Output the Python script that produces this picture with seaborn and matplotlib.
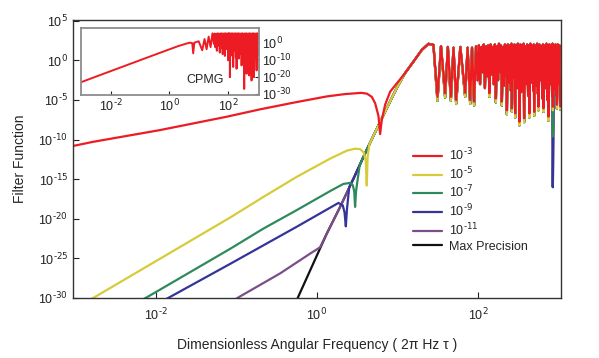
import numpy as np
import matplotlib
matplotlib.use('Agg')
import matplotlib.pyplot as plt
from matplotlib.ticker import NullLocator, FuncFormatter
import seaborn as sns

# Curves are stored as log10(frequency) / log10(filter function)

# shared steep part (all small-error curves collapse onto it)
merged_logx = [0.12, 0.287, 0.45, 0.617, 0.784, 0.99, 1.094, 1.198, 1.302, 1.384, 1.446]
merged_logF = [-21.9, -18.5, -15.0, -11.3, -7.75, -3.5, -1.6, -0.15, 1.33, 2.09, 1.96]

# high frequency oscillating tail (red on top, the others peek out under the dips)
tail_logx = [1.496, 1.54, 1.591, 1.625, 1.662, 1.695, 1.728, 1.78, 1.84, 1.87, 1.902, 1.925, 1.951, 1.975,
             1.995, 2.01, 2.025, 2.04, 2.055, 2.07, 2.085, 2.10, 2.115, 2.128, 2.141, 2.155, 2.168, 2.182,
             2.195, 2.208, 2.221, 2.235, 2.248, 2.26, 2.272, 2.284, 2.295, 2.31, 2.322, 2.334, 2.346, 2.352,
             2.358, 2.37, 2.382, 2.395, 2.407, 2.414, 2.42, 2.432, 2.444, 2.452, 2.461, 2.474, 2.486, 2.495,
             2.505, 2.51, 2.514, 2.526, 2.538, 2.548, 2.56, 2.566, 2.572, 2.585, 2.598, 2.61, 2.622, 2.63,
             2.638, 2.65, 2.662, 2.674, 2.686, 2.692, 2.697, 2.71, 2.722, 2.733, 2.742, 2.746, 2.75, 2.762,
             2.774, 2.786, 2.798, 2.806, 2.812, 2.825, 2.837, 2.849, 2.86, 2.868, 2.874, 2.886, 2.898, 2.91,
             2.92, 2.925, 2.929, 2.94, 2.952, 2.962, 2.972, 2.976, 2.979, 2.99, 3.0, 3.01, 3.02]
tail_red = [-4.6, 1.8, -4.15, 1.7, -4.6, 1.6, -5.0, 1.7, -4.1, 1.6, -5.0, 1.6, -5.2, 1.8,
            -2.5, 1.9, -3.0, 1.7, -1.5, 2.0, -3.5, 1.8, -2.0, 1.9, -4.15, 2.0, -1.8, 1.7,
            -3.0, 2.0, -4.8, 1.8, -2.5, 2.1, -1.5, 1.9, -5.2, 1.7, -3.2, 2.0, -2.0, 1.8,
            -6.3, 2.0, -2.8, 1.9, -3.8, 2.1, -6.05, 1.8, -2.2, 2.0, -6.7, 1.9, -3.5, 2.1,
            -2.0, 1.8, -7.75, 2.0, -4.0, 1.9, -2.5, 2.1, -7.3, 1.8, -3.0, 2.0, -4.5, 1.9,
            -6.7, 2.1, -2.8, 1.8, -3.8, 2.0, -6.5, 1.9, -3.2, 2.1, -4.2, 1.9, -5.85, 2.0,
            -2.5, 1.8, -4.8, 2.0, -6.05, 1.9, -3.5, 2.1, -5.0, 1.9, -7.1, 2.0, -3.0, 1.9,
            -4.5, 2.1, -5.85, 1.9, -3.8, 2.0, -4.5, 1.9, -5.6, 2.0, -3.0, 1.9, -5.8]
tail_under = [-5.1, 1.8, -4.7, 1.7, -5.1, 1.6, -5.5, 1.7, -4.6, 1.6, -5.5, 1.6, -5.7, 1.8,
              -2.5, 1.9, -3.0, 1.7, -1.5, 2.0, -3.5, 1.8, -2.0, 1.9, -4.6, 2.0, -1.8, 1.7,
              -3.0, 2.0, -5.3, 1.8, -2.5, 2.1, -1.5, 1.9, -5.7, 1.7, -3.2, 2.0, -2.0, 1.8,
              -6.8, 2.0, -2.8, 1.9, -3.8, 2.1, -6.5, 1.8, -2.2, 2.0, -7.2, 1.9, -3.5, 2.1,
              -2.0, 1.8, -8.2, 2.0, -4.0, 1.9, -2.5, 2.1, -7.8, 1.8, -3.0, 2.0, -4.5, 1.9,
              -7.2, 2.1, -2.8, 1.8, -3.8, 2.0, -7.0, 1.9, -3.2, 2.1, -4.2, 1.9, -6.3, 2.0,
              -2.5, 1.8, -4.8, 2.0, -6.5, 1.9, -3.5, 2.1, -5.0, 1.9, -7.6, 2.0, -3.0, 1.9,
              -4.5, 2.1, -6.3, 1.9, -3.8, 2.0, -4.5, 1.9, -6.1, 2.0, -3.0, 1.9, -6.2]
spike_logx = 2.929
spike_green = -9.6
spike_blue = -16.0

# each curve's own low-frequency part
red_logx = [-3.05, -2.78, -1.95, -1.12, -0.707, -0.293, 0.121, 0.35, 0.55, 0.62, 0.68, 0.722, 0.763,
            0.784, 0.805, 0.846, 0.908, 0.991, 1.094]
red_logF = [-10.85, -10.28, -8.8, -7.11, -6.18, -5.34, -4.55, -4.25, -4.1, -4.2, -4.6, -5.4, -7.0,
            -9.3, -7.5, -5.6, -3.95, -2.9, -1.6]
yellow_logx = [-2.9, -2.78, -2.0, -1.08, -0.666, -0.251, 0.163, 0.37, 0.47, 0.535, 0.58, 0.605, 0.618, 0.628, 0.65]
yellow_logF = [-30.7, -30.0, -25.35, -19.85, -17.24, -14.7, -12.4, -11.4, -11.15, -11.2, -11.6, -12.6, -15.8, -12.3, -10.6]
green_logx = [-2.2, -2.094, -1.08, -0.666, -0.251, 0.163, 0.327, 0.411, 0.444, 0.462, 0.473, 0.485, 0.53]
green_logF = [-30.4, -29.8, -23.8, -21.24, -18.9, -16.5, -15.6, -15.47, -15.76, -16.5, -18.5, -16.5, -13.2]
blue_logx = [-1.92, -1.813, -1.08, -0.666, -0.251, 0.163, 0.266, 0.32, 0.342, 0.358, 0.372, 0.40]
blue_logF = [-30.4, -29.8, -25.7, -23.35, -21.0, -18.6, -18.0, -18.3, -19.2, -20.95, -18.8, -16.0]
purple_logx = [-1.06, -0.955, -0.459, -0.086, 0.038, 0.1]
purple_logF = [-30.45, -29.8, -26.9, -24.4, -23.6, -22.3]
black_logx = [-0.27, -0.231]
black_logF = [-30.7, -29.8]

# CPMG inset
cpmg_logx = [-3.05, -2.5, -1.5, -0.5, 0.3, 0.59, 0.7, 0.78, 0.813, 0.85, 1.0, 1.12, 1.2, 1.27, 1.34, 1.407,
             1.47, 1.52, 1.545, 1.57, 1.595, 1.62, 1.645, 1.67, 1.695, 1.72, 1.745, 1.77, 1.795, 1.82,
             1.845, 1.87, 1.882, 1.895, 1.92, 1.945, 1.97, 1.99, 2.0, 2.008, 2.03, 2.05, 2.058, 2.066,
             2.085, 2.11, 2.135, 2.155, 2.165, 2.178, 2.2, 2.225, 2.25, 2.27, 2.28, 2.294, 2.315, 2.34,
             2.36, 2.373, 2.395, 2.42, 2.445, 2.465, 2.49, 2.515, 2.54, 2.554, 2.575, 2.6, 2.62, 2.636,
             2.66, 2.685, 2.705, 2.724, 2.745, 2.77, 2.79, 2.806, 2.83, 2.855, 2.87, 2.885, 2.91, 2.935,
             2.955, 2.977, 3.0, 3.02, 3.04, 3.06]
cpmg_logF = [-23.4, -19.9, -13.6, -7.3, -2.3, -0.8, -0.3, -0.6, -6.5, -0.3, 0.5, -4.7, 1.8, -4.1, 3.2, -2.9,
             5.1, -1.0, 5.0, -3.0, 4.8, -5.0, 5.1, -2.0, 4.9, -6.0, 5.0, -3.5, 5.1, -7.0,
             4.9, -2.5, 5.0, -8.0, 5.1, -4.0, 4.9, -3.0, 5.0, -10.5, 5.1, -5.0, 4.9, -20.3,
             5.0, -6.0, 5.1, -8.0, 4.9, -14.4, 5.0, -5.0, 5.1, -9.0, 4.9, -15.4, 5.0, -6.0,
             5.1, -9.5, 4.9, -7.0, 5.0, -13.5, 5.1, -8.0, 4.9, -27.1, 5.0, -9.0, 5.1, -18.3,
             4.9, -10.0, 5.0, -19.3, 5.1, -8.0, 4.9, -22.2, 5.0, -12.0, 5.1, -20.3, 4.9, -9.0,
             5.0, -16.4, 5.1, -8.0, 4.9, -6.0]

labels = [r'$\mathregular{10^{\text{-3}}}$', r'$\mathregular{10^{\text{-5}}}$', r'$\mathregular{10^{\text{-7}}}$',
          r'$\mathregular{10^{\text{-9}}}$', r'$\mathregular{10^{\text{-11}}}$', 'Max Precision']
colors = ['#ED1C24', '#D8CB3A', '#2E8A5C', '#34349A', '#7A4E88', '#111111']

sns.set_style('white')
plt.rcParams['font.family'] = ['Liberation Sans', 'DejaVu Sans']
plt.rcParams['mathtext.default'] = 'regular'
plt.rcParams['axes.unicode_minus'] = False


def build(own_x, own_F, tail):
    # own part, then the shared steep line, then the oscillating tail
    xs = list(own_x) + [x for x in merged_logx if x > own_x[-1]]
    fs = list(own_F) + [f for x, f in zip(merged_logx, merged_logF) if x > own_x[-1]]
    return 10 ** np.array(xs + tail_logx), 10 ** np.array(fs + tail)


def with_spike(value):
    t = list(tail_under)
    t[tail_logx.index(spike_logx)] = value
    return t


def pow_label(v, pos):
    # 10 with a plain hyphen in the exponent, like the original figure
    return r'$\mathregular{10^{\text{%d}}}$' % int(round(np.log10(v)))


fig = plt.figure(figsize=(5.99, 3.58), dpi=100)
ax = fig.add_axes([73 / 599, 1 - 298 / 358, 488 / 599, 278 / 358])
ax.set_xscale('log')
ax.set_yscale('log')

curves = [
    (black_logx, black_logF, with_spike(spike_blue), 5),
    (purple_logx, purple_logF, with_spike(spike_blue), 4),
    (blue_logx, blue_logF, with_spike(spike_blue), 3),
    (green_logx, green_logF, with_spike(spike_green), 2),
    (yellow_logx, yellow_logF, tail_under, 1),
    (red_logx, red_logF, tail_red, 0),
]
for own_x, own_F, tail, i in curves:
    x, y = build(own_x, own_F, tail)
    sns.lineplot(x=x, y=y, ax=ax, color=colors[i], linewidth=1.6, sort=False,
                 estimator=None, label=labels[i])

ax.set_xlim(10 ** -3.03, 10 ** 3.03)
ax.set_ylim(1e-30, 10 ** 5.1)
ax.set_xticks([1e-2, 1e0, 1e2])
ax.set_yticks([10.0 ** k for k in range(5, -31, -5)])
ax.xaxis.set_minor_locator(NullLocator())
ax.yaxis.set_minor_locator(NullLocator())
ax.xaxis.set_major_formatter(FuncFormatter(pow_label))
ax.yaxis.set_major_formatter(FuncFormatter(pow_label))
ax.tick_params(direction='in', length=4, width=0.8, labelsize=9, colors='#222222',
               bottom=True, left=True)
ax.tick_params(axis='x', pad=6)
for s in ax.spines.values():
    s.set_color('#333333')
    s.set_linewidth(1.0)
ax.set_xlabel('Dimensionless Angular Frequency ( 2\u03c0 Hz \u03c4 )', fontsize=10, labelpad=11)
ax.set_ylabel('Filter Function', fontsize=10, labelpad=8)

handles, labs = ax.get_legend_handles_labels()
order = [labs.index(l) for l in labels]
ax.legend([handles[k] for k in order], labels, loc='upper left', bbox_to_anchor=(0.697, 0.545),
          frameon=False, fontsize=9, handlelength=2.3, handletextpad=0.6, labelspacing=0.18,
          borderaxespad=0, borderpad=0)

# CPMG inset
inax = fig.add_axes([80.7 / 599, 1 - 95 / 358, 178.3 / 599, 66.7 / 358])
inax.set_xscale('log')
inax.set_yscale('log')
sns.lineplot(x=10 ** np.array(cpmg_logx), y=10 ** np.array(cpmg_logF), ax=inax, color=colors[0],
             linewidth=1.4, sort=False, estimator=None)
inax.set_xlim(10 ** -3.03, 10 ** 3.06)
inax.set_ylim(10 ** -30.6, 1e8)
inax.set_xticks([1e-2, 1e0, 1e2])
inax.set_yticks([1e0, 1e-10, 1e-20, 1e-30])
inax.xaxis.set_minor_locator(NullLocator())
inax.yaxis.set_minor_locator(NullLocator())
inax.xaxis.set_major_formatter(FuncFormatter(pow_label))
inax.yaxis.set_major_formatter(FuncFormatter(pow_label))
inax.yaxis.tick_right()
inax.tick_params(direction='in', length=3, width=0.8, labelsize=9, colors='#222222', pad=2,
                 bottom=True, right=True)
for s in inax.spines.values():
    s.set_color('#8c8c8c')
    s.set_linewidth(1.3)
inax.text(0.70, 0.23, 'CPMG', transform=inax.transAxes, ha='center', va='center', fontsize=9)

plt.savefig('out.png', dpi=100)
